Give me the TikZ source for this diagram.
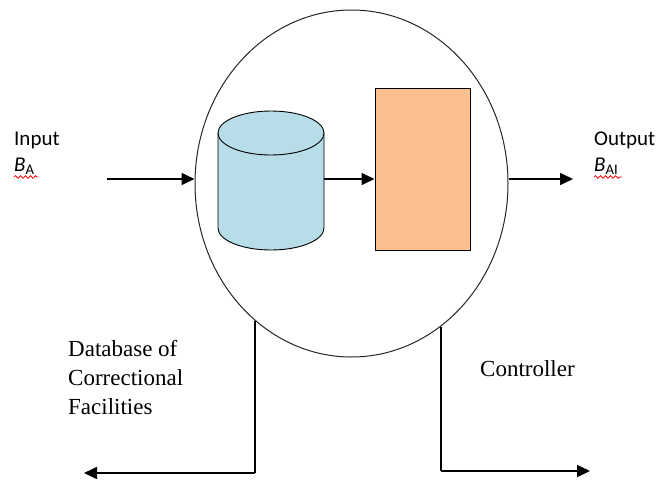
\documentclass[tikz,border=0pt]{standalone}
\usepackage{fontspec}
\setmainfont{Liberation Serif}
\newfontfamily\calib{Carlito}
\usetikzlibrary{arrows.meta,shapes.geometric,decorations.pathmorphing}
\definecolor{cylblue}{HTML}{B7DDE8}
\definecolor{ctrlorange}{HTML}{F9BF8F}
\tikzset{
  conn/.style={line width=1.6pt,-{Triangle[length=13pt,width=12pt]}},
  plain/.style={line width=1.6pt},
  sanslbl/.style={anchor=base west,inner sep=0pt,font=\calib\fontsize{21}{25}\selectfont},
  seriflbl/.style={inner sep=0pt,font=\fontsize{23}{29}\selectfont},
  squiggle/.style={red,line width=0.8pt,decorate,decoration={snake,amplitude=1.3pt,segment length=5pt}}
}
\begin{document}
\begin{tikzpicture}[x=1pt,y=-1pt]
\useasboundingbox (0,0) rectangle (662,483);
% system ellipse
\node[ellipse,draw=black!85,line width=1pt,minimum width=313pt,minimum height=347pt,inner sep=0pt] (sys) at (351.5,183.5) {};
% cylinder (database)
\node[minimum width=106pt,minimum height=139pt,inner sep=0pt] (cyl) at (271,179) {};
\fill[cylblue] (218,133) -- (218,228) arc[start angle=180,end angle=360,x radius=53pt,y radius=22pt] -- (324,133) -- cycle;
\draw[line width=0.9pt] (218,133) -- (218,228) arc[start angle=180,end angle=360,x radius=53pt,y radius=22pt] -- (324,133);
\draw[line width=0.9pt,fill=cylblue] (271,133) ellipse[x radius=53pt,y radius=22pt];
% controller box
\node[draw,line width=1pt,fill=ctrlorange,minimum width=95pt,minimum height=162pt,inner sep=0pt] (ctrl) at (422.5,169) {};
\draw[conn] (cyl.east) -- (cyl.east -| ctrl.west);
% input / output
\coordinate (inA) at (107,179);
\coordinate (outA) at (573,179);
\draw[conn] (inA) -- (inA -| sys.west);
\draw[conn] (outA -| sys.east) -- (outA);
\node[sanslbl] (inlbl) at (14,145) {Input};
\node[sanslbl] (inB) at (14,171) {\itshape B\textsubscript{\upshape A}};
\draw[squiggle] (14,177) -- (38,177);
\node[sanslbl] (outlbl) at (594,145) {Output};
\node[sanslbl] (outB) at (594,171) {\itshape B\textsubscript{\upshape AI}};
\draw[squiggle] (594,177) -- (622,177);
% bottom connectors
\coordinate (dbEnd) at (84,473);
\coordinate (ctEnd) at (590,471);
\draw[plain] (sys.235) -- (sys.235 |- dbEnd);
\draw[conn] (sys.235 |- dbEnd) -- (dbEnd);
\draw[plain] (sys.302.6) -- (sys.302.6 |- ctEnd);
\draw[conn] (sys.302.6 |- ctEnd) -- (ctEnd);
% labels
\node[seriflbl,anchor=base west,align=left] (dblbl) at (68,414) {Database of\\Correctional\\Facilities};
\node[seriflbl,anchor=base west] (ctlbl) at (480,376) {Controller};
\end{tikzpicture}
\end{document}
